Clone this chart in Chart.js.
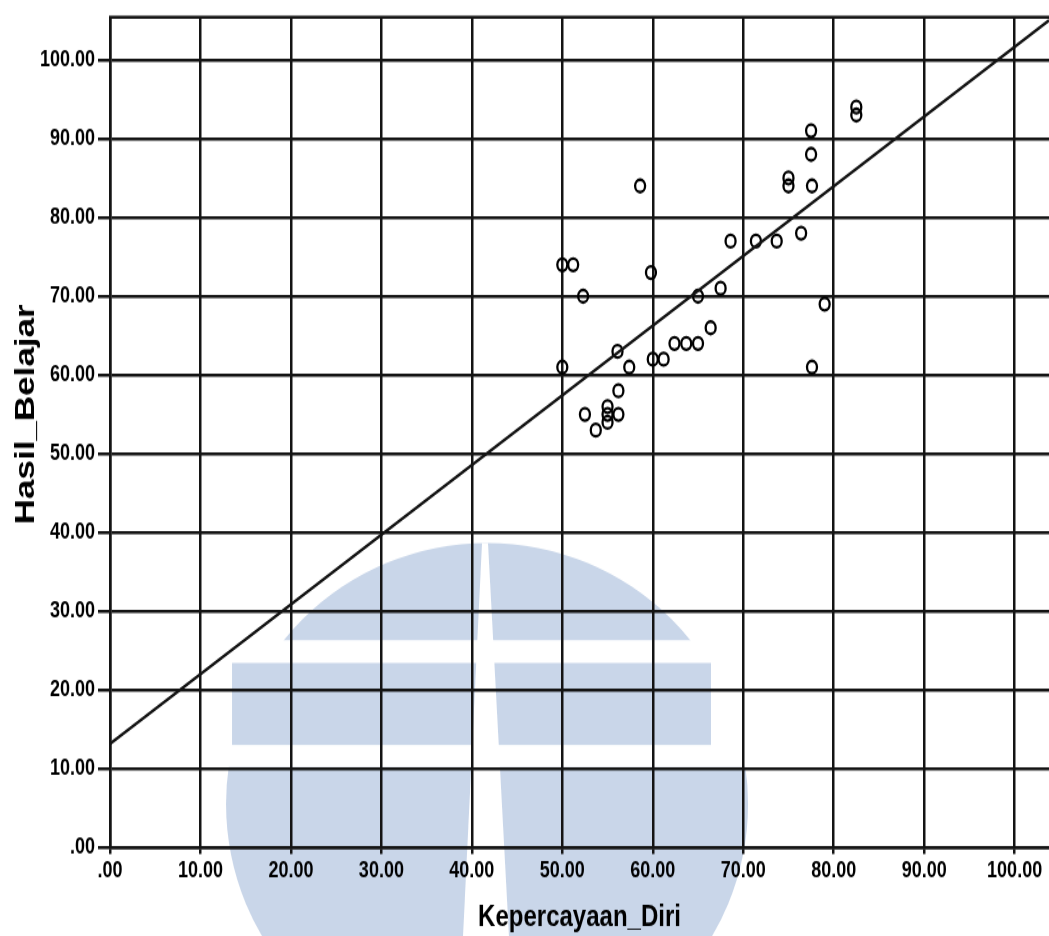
<!DOCTYPE html>
<html>
<head>
<meta charset="utf-8">
<script src="https://cdn.jsdelivr.net/npm/chart.js@4/dist/chart.umd.min.js"></script>
<style>
  html, body { margin: 0; padding: 0; background: #ffffff; overflow: hidden; }
</style>
</head>
<body>
<canvas id="c" width="1049" height="749" style="display:block;width:1049px;height:936px;"></canvas>
<script>
// ---- data ----
const scatterX = [50.0, 51.2, 52.3, 50.0, 52.5, 53.7, 55.0, 55.0, 55.0, 56.2, 56.2, 56.1, 57.4,
                  59.8, 60.0, 61.2, 62.4, 63.7, 65.0, 66.4, 65.0, 67.5, 68.6, 71.4, 73.7, 76.4,
                  79.0, 77.6, 58.6, 75.0, 75.0, 77.6, 77.5, 77.5, 82.5, 82.5];
const scatterY = [74, 74, 70, 61, 55, 53, 56, 55, 54, 55, 58, 63, 61,
                  73, 62, 62, 64, 64, 64, 66, 70, 71, 77, 77, 77, 78,
                  69, 61, 84, 85, 84, 84, 88, 91, 94, 93];
const fitX = [0, 103.8];
const fitY = [13.2, 105.0];
const xTicks = [0, 10, 20, 30, 40, 50, 60, 70, 80, 90, 100];
const yTicks = [0, 10, 20, 30, 40, 50, 60, 70, 80, 90, 100];
const xTitle = 'Kepercayaan_Diri';
const yTitle = 'Hasil_Belajar';

const INK = '#141414';
const FAMILY = 'Liberation Sans, Arial, sans-serif';
const tickFont = { family: FAMILY, size: 18, weight: 'bold' };
const fmt = v => (v === 0 ? '.00' : Number(v).toFixed(2));

// faint watermark logo behind the plot (decoration, not data)
const watermark = {
  id: 'watermark',
  beforeDraw(chart) {
    const ctx = chart.ctx;
    const W = chart.width, H = chart.height;
    ctx.save();
    ctx.fillStyle = '#ffffff';
    ctx.fillRect(0, 0, W, H);
    const cx = W * 0.4643, cy = H * 0.8588, rx = W * 0.2488, ry = H * 0.2788;
    ctx.fillStyle = '#c9d6e9';
    // top cap
    ctx.save();
    ctx.beginPath(); ctx.rect(0, 0, W, H * 0.6838); ctx.clip();
    ctx.beginPath(); ctx.ellipse(cx, cy, rx, ry, 0, 0, Math.PI * 2); ctx.fill();
    ctx.restore();
    // middle band
    ctx.fillRect(W * 0.2212, H * 0.7083, W * 0.4566, H * 0.0876);
    // lower part
    ctx.save();
    ctx.beginPath(); ctx.rect(0, H * 0.8194, W, H); ctx.clip();
    ctx.beginPath(); ctx.ellipse(cx, cy, rx, ry, 0, 0, Math.PI * 2); ctx.fill();
    ctx.restore();
    // vertical white wedge
    ctx.fillStyle = '#ffffff';
    ctx.beginPath();
    ctx.moveTo(W * 0.4595, H * 0.58);
    ctx.lineTo(W * 0.4652, H * 0.58);
    ctx.lineTo(W * 0.4852, H);
    ctx.lineTo(W * 0.4414, H);
    ctx.closePath();
    ctx.fill();
    ctx.restore();
  },
  afterDraw(chart) {
    const { ctx, chartArea } = chart;
    ctx.save();
    // top frame line
    ctx.strokeStyle = INK;
    ctx.lineWidth = 2.5;
    ctx.beginPath();
    ctx.moveTo(chartArea.left - 1, chartArea.top);
    ctx.lineTo(chartArea.right, chartArea.top);
    ctx.stroke();
    // y-axis title
    ctx.fillStyle = '#000';
    ctx.font = 'bold 28px ' + FAMILY;
    ctx.textAlign = 'center';
    ctx.textBaseline = 'middle';
    ctx.translate(26, chartArea.top + (chartArea.bottom - chartArea.top) * 0.478);
    ctx.rotate(-Math.PI / 2);
    ctx.fillText(yTitle, 0, 0);
    ctx.restore();
  }
};

new Chart(document.getElementById('c'), {
  type: 'scatter',
  data: {
    datasets: [
      {
        type: 'line',
        data: fitX.map((x, i) => ({ x, y: fitY[i] })),
        borderColor: INK,
        borderWidth: 2.5,
        pointRadius: 0,
        fill: false,
        tension: 0
      },
      {
        data: scatterX.map((x, i) => ({ x, y: scatterY[i] })),
        pointStyle: 'circle',
        pointRadius: 5,
        pointBorderWidth: 2.3,
        borderColor: '#000',
        backgroundColor: 'rgba(0,0,0,0)',
        pointBackgroundColor: 'rgba(0,0,0,0)'
      }
    ]
  },
  options: {
    responsive: false,
    animation: false,
    devicePixelRatio: 1,
    layout: { autoPadding: false, padding: { top: 12, left: 0, right: 0, bottom: 0 } },
    plugins: { legend: { display: false }, tooltip: { enabled: false } },
    scales: {
      x: {
        type: 'linear',
        min: 0,
        max: 103.8,
        afterBuildTicks: s => { s.ticks = xTicks.map(v => ({ value: v })); },
        afterFit: s => { s.height = 70.6; s.paddingLeft = 0; s.paddingRight = 0; },
        grid: { color: INK, lineWidth: 2.5, tickLength: 5, drawTicks: true },
        border: { display: true, color: INK, width: 2.5 },
        ticks: { font: tickFont, color: '#000', padding: 3, maxRotation: 0, autoSkip: false, callback: fmt },
        title: {
          display: true, text: xTitle, color: '#000',
          font: { family: FAMILY, size: 24, weight: 'bold' },
          padding: { top: 0, bottom: 0 }
        }
      },
      y: {
        type: 'linear',
        min: 0,
        max: 105.4,
        afterBuildTicks: s => { s.ticks = yTicks.map(v => ({ value: v })); },
        afterFit: s => { s.width = 110; },
        grid: { color: INK, lineWidth: 2.5, tickLength: 12, drawTicks: true },
        border: { display: true, color: INK, width: 2.5 },
        ticks: { font: tickFont, color: '#000', padding: 3, autoSkip: false, callback: fmt },
        title: { display: false }
      }
    }
  },
  plugins: [watermark]
});
</script>
</body>
</html>
